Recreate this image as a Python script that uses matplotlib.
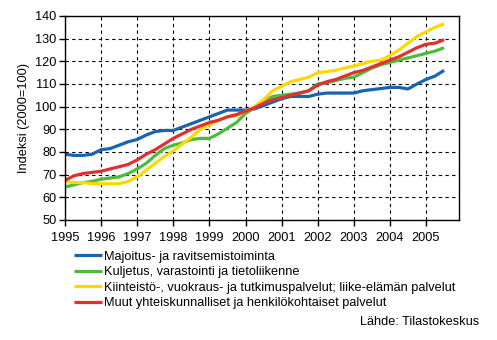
import matplotlib.pyplot as plt
import numpy as np

plt.rcParams['font.family'] = ['Liberation Sans', 'DejaVu Sans']

# quarterly index values, 1995 Q1 .. 2005 Q3
years = np.arange(1995, 2005.51, 0.25)

majoitus = [79, 78.5, 78.5, 79, 81, 81.5, 83, 84.5, 85.5, 87.5, 89, 89.5,
            89.5, 91, 92.5, 94, 95.5, 97, 98.5, 98.5, 98.5, 99, 100.5, 102,
            103.5, 104.5, 104.5, 104.5, 105.5, 106, 106, 106, 106, 107, 107.5, 108,
            108.5, 108.5, 107.8, 110, 112, 113.5, 116]
kuljetus = [64.5, 65.5, 66.5, 67, 68, 68.5, 69, 70.5, 72.5, 75, 78.5, 81.5,
            83, 84, 85.5, 86, 86, 88, 90.5, 93, 97, 99.5, 102, 104.5,
            105, 105.5, 106, 107, 110, 110.5, 111.5, 112.5, 113, 115, 117, 118.5,
            119.5, 120.5, 121.5, 122.5, 123.5, 124.5, 126]
kiinteisto = [67, 66.5, 66.5, 66, 66, 66, 66, 67, 69, 72, 75, 78,
              80.5, 83.5, 86.5, 90, 92, 94, 95.5, 96, 98, 100, 103, 107,
              109, 111, 112, 113, 115, 115.5, 116, 117, 118, 119, 120, 120.5,
              122.5, 125, 128, 131, 133, 135, 136.5]
muut = [67.5, 69.5, 70.5, 71, 71.5, 72.5, 73.5, 74.5, 76.5, 79, 81, 83.5,
        86, 88, 90, 91.5, 93, 94, 95.5, 96.5, 98, 99.5, 101.5, 103,
        104, 105, 106, 107, 109.5, 111, 112, 113.5, 115, 116, 117.5, 119,
        120.5, 122, 124, 126, 127.5, 128, 129.5]

labels = ['Majoitus- ja ravitsemistoiminta',
          'Kuljetus, varastointi ja tietoliikenne',
          'Kiinteistö-, vuokraus- ja tutkimuspalvelut; liike-elämän palvelut',
          'Muut yhteiskunnalliset ja henkilökohtaiset palvelut']
colors = ['#1764b4', '#4cbc3c', '#ffd800', '#e03030']
xticks = list(range(1995, 2006))
fs = 9.2

fig = plt.figure(figsize=(4.97, 3.40), dpi=100)
ax = fig.add_axes([0.1308, 0.353, 0.7932, 0.6])

for s, lab, c in zip([majoitus, kuljetus, kiinteisto, muut], labels, colors):
    ax.plot(years, s, color=c, lw=2.3, label=lab, solid_capstyle='butt')

ax.set_xlim(1995, 2005.92)
ax.set_ylim(50, 140)
ax.set_xticks(xticks)
ax.set_xticklabels([str(x) for x in xticks])
ax.set_yticks(range(50, 141, 10))
ax.tick_params(direction='out', length=4, width=1, labelsize=fs, pad=2, color='black')
ax.tick_params(axis='x', pad=5)
ax.grid(True, color='black', ls=(0, (3, 3)), lw=0.8)
for sp in ax.spines.values():
    sp.set_linewidth(1)
ax.set_ylabel('Indeksi (2000=100)', fontsize=fs, labelpad=4)

fig.legend(loc='upper left', bbox_to_anchor=(0.148, 0.262), frameon=False,
           fontsize=fs, handlelength=2.2, handletextpad=0.15, labelspacing=0.27,
           borderaxespad=0, borderpad=0)
fig.text(0.965, 0.053, 'Lähde: Tilastokeskus', ha='right', va='center', fontsize=fs)

fig.savefig('out.png', dpi=100)
